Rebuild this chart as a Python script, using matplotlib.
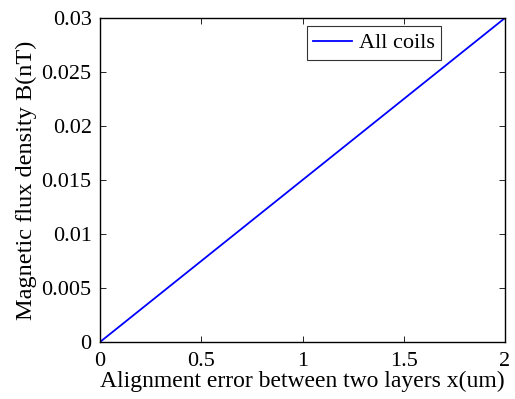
import matplotlib
matplotlib.use("Agg")
import matplotlib.pyplot as plt

# Flux density versus layer misalignment
x_um = [0.0, 0.5, 1.0, 1.5, 2.0]
b_nT = [0.0, 0.0075, 0.015, 0.0225, 0.03]
x_ticks = [0, 0.5, 1, 1.5, 2]
x_tick_labels = ["0", "0.5", "1", "1.5", "2"]
y_ticks = [0, 0.005, 0.01, 0.015, 0.02, 0.025, 0.03]
y_tick_labels = ["0", "0.005", "0.01", "0.015", "0.02", "0.025", "0.03"]

plt.rcParams["font.family"] = ["Liberation Serif", "DejaVu Serif"]
plt.rcParams["font.size"] = 16

fig = plt.figure(figsize=(5.15, 3.99), dpi=100)
ax = fig.add_axes([100 / 515, 57 / 399, 405 / 515, 324 / 399])

ax.plot(x_um, b_nT, color="#0000ff", linewidth=1.3, label="All coils")

ax.set_xlim(0, 2)
ax.set_ylim(0, 0.03)
ax.set_xticks(x_ticks)
ax.set_xticklabels(x_tick_labels, fontsize=16)
ax.set_yticks(y_ticks)
ax.set_yticklabels(y_tick_labels, fontsize=16)
ax.tick_params(direction="in", length=4, width=0.6, top=True, right=True)
ax.tick_params(axis="x", pad=7)
ax.tick_params(axis="y", pad=6)
for s in ax.spines.values():
    s.set_linewidth(1.0)

ax.set_xlabel("Alignment error between two layers x(um)", fontsize=17, labelpad=0)
ax.set_ylabel("Magnetic flux density B(nT)", fontsize=17.5, labelpad=3)

leg = ax.legend(loc="upper right", bbox_to_anchor=(0.843, 0.975), frameon=True,
                fancybox=False, edgecolor="black", handlelength=1.75,
                handletextpad=0.3, borderpad=0.3, borderaxespad=0, fontsize=16)
leg.get_frame().set_linewidth(0.8)

fig.savefig("out.png", dpi=100)
